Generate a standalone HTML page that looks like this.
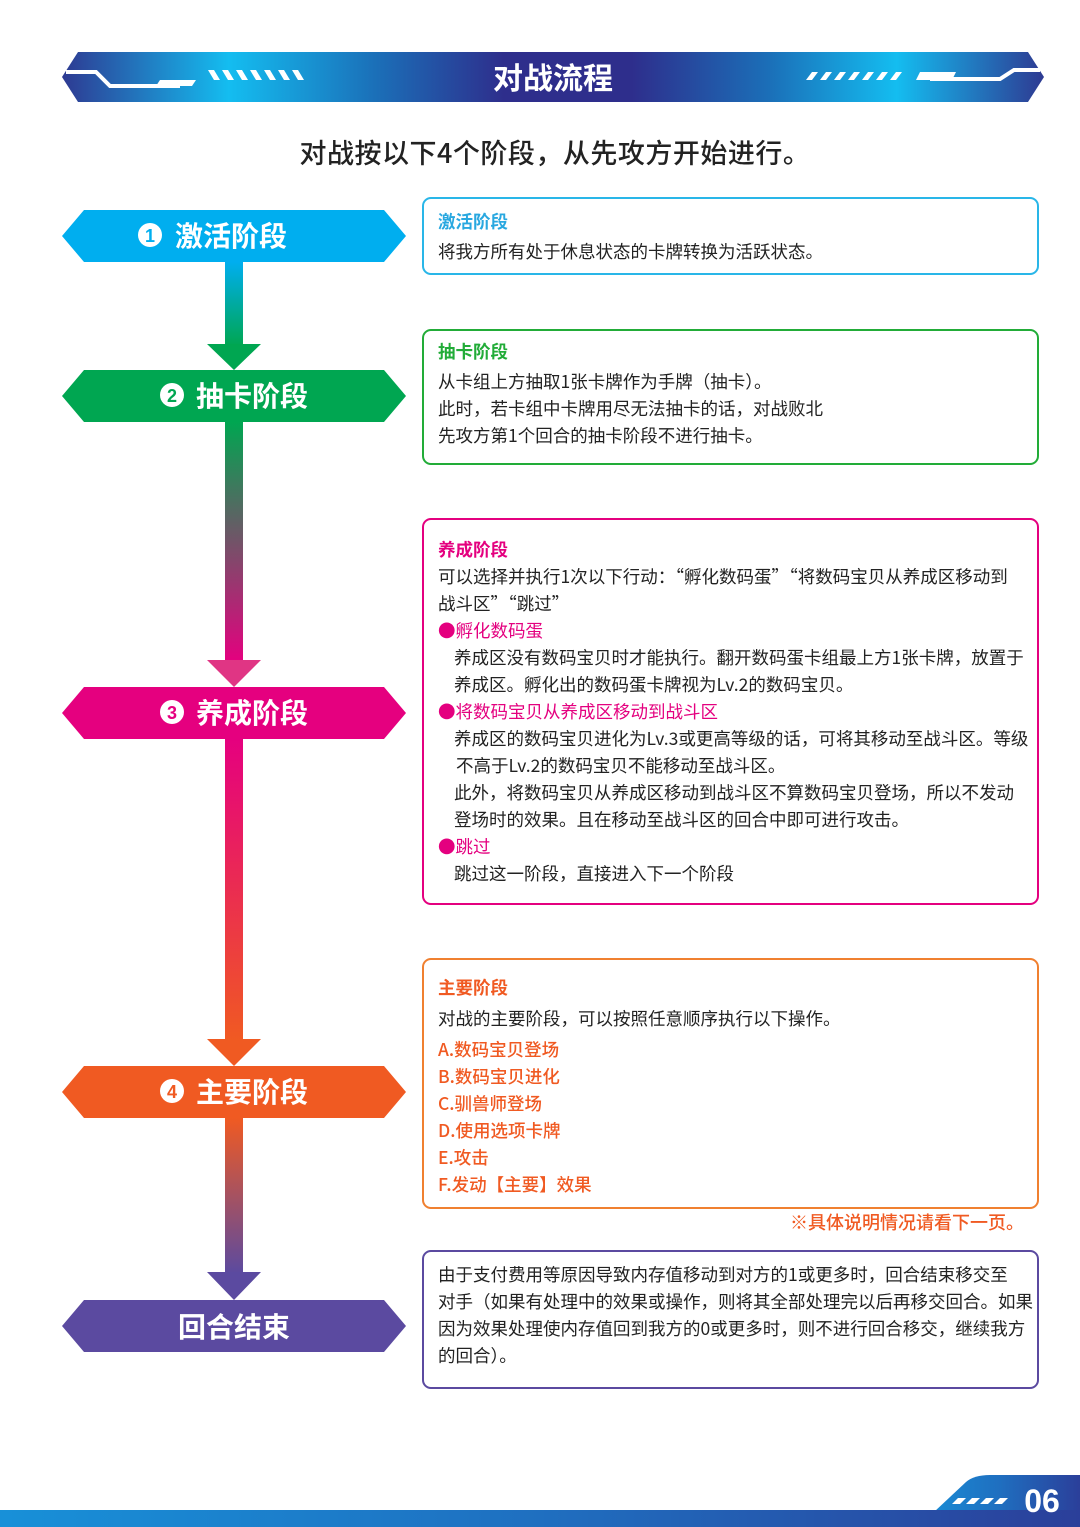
<!DOCTYPE html>
<html><head><meta charset="utf-8"><style>
body{margin:0;width:1080px;height:1527px;background:#fff;position:relative;overflow:hidden;font-family:"Noto Sans CJK SC","Liberation Sans",sans-serif;}
.box{position:absolute;left:422px;width:617px;border:2px solid;border-radius:9px;box-sizing:border-box;font-size:17.5px;color:#222;white-space:nowrap;}
.box p{margin:0;}
.t{font-weight:bold;}
.abs{position:absolute;}
</style></head><body>
<svg class="abs" style="left:0;top:0" width="1080" height="1527">
<defs>
<linearGradient id="ban" x1="0" x2="1">
<stop offset="0" stop-color="#2e3a92"/><stop offset="0.17" stop-color="#14bdf0"/><stop offset="0.32" stop-color="#1b6fb8"/><stop offset="0.45" stop-color="#2e2e8c"/><stop offset="0.58" stop-color="#2e2e8c"/><stop offset="0.72" stop-color="#1b6fb8"/><stop offset="0.85" stop-color="#14bdf0"/><stop offset="1" stop-color="#2e3a92"/></linearGradient>
<linearGradient id="c1" x1="0" y1="0" x2="0" y2="1"><stop offset="0" stop-color="#00aeef"/><stop offset="1" stop-color="#00a651"/></linearGradient>
<linearGradient id="c2" x1="0" y1="0" x2="0" y2="1"><stop offset="0" stop-color="#00a651"/><stop offset="1" stop-color="#e5007f"/></linearGradient>
<linearGradient id="c3" x1="0" y1="0" x2="0" y2="1"><stop offset="0" stop-color="#e5007f"/><stop offset="1" stop-color="#f05a22"/></linearGradient>
<linearGradient id="c4" x1="0" y1="0" x2="0" y2="1"><stop offset="0" stop-color="#f05a22"/><stop offset="1" stop-color="#5b4aa0"/></linearGradient>
<linearGradient id="bot" x1="0" x2="1"><stop offset="0" stop-color="#1890d8"/><stop offset="0.5" stop-color="#1f6fc0"/><stop offset="1" stop-color="#2b3f9a"/></linearGradient>
</defs>
<polygon points="78,52 1028,52 1044,77 1028,102 78,102 62,77" fill="url(#ban)"/>
<polyline points="66,72 96,72 110,86 180,86" stroke="#fff" stroke-width="4" fill="none"/>
<polygon points="160,80 196,80 192,86 156,86" fill="#fff"/>
<g fill="#fff"><polygon points="208,70 214,70 220,80 214,80"/><polygon points="222,70 228,70 234,80 228,80"/><polygon points="236,70 242,70 248,80 242,80"/><polygon points="250,70 256,70 262,80 256,80"/><polygon points="264,70 270,70 276,80 270,80"/><polygon points="278,70 284,70 290,80 284,80"/><polygon points="292,70 298,70 304,80 298,80"/>
<polygon points="812,72 818,72 812,80 806,80"/><polygon points="826,72 832,72 826,80 820,80"/><polygon points="840,72 846,72 840,80 834,80"/><polygon points="854,72 860,72 854,80 848,80"/><polygon points="868,72 874,72 868,80 862,80"/><polygon points="882,72 888,72 882,80 876,80"/><polygon points="896,72 902,72 896,80 890,80"/>
<polygon points="920,72 956,72 952,80 916,80"/></g>
<polyline points="930,79 1000,79 1014,70 1040,70" stroke="#fff" stroke-width="4" fill="none"/>
<text x="553" y="89" fill="#fff" font-size="30" font-weight="bold" text-anchor="middle" font-family="Noto Sans CJK SC,sans-serif">对战流程</text>
<text x="555" y="163" fill="#222" font-size="27" font-weight="500" text-anchor="middle" letter-spacing="0.5" font-family="Noto Sans CJK SC,sans-serif">对战按以下4个阶段，从先攻方开始进行。</text>
<rect x="225" y="262" width="18" height="84" fill="url(#c1)"/><polygon points="207,344 261,344 234,370" fill="#00a651"/>
<rect x="225" y="422" width="18" height="240" fill="url(#c2)"/><polygon points="207,660 261,660 234,687" fill="#e03584"/>
<rect x="225" y="739" width="18" height="302" fill="url(#c3)"/><polygon points="207,1039 261,1039 234,1066" fill="#f05a22"/>
<rect x="225" y="1118" width="18" height="156" fill="url(#c4)"/><polygon points="207,1272 261,1272 234,1300" fill="#5b4aa0"/>
<g font-family="Noto Sans CJK SC,sans-serif" font-size="28" font-weight="bold" fill="#fff" text-anchor="middle">
<polygon points="84,210 384,210 406,236 384,262 84,262 62,236" fill="#00aeef"/>
<circle cx="150" cy="235" r="12" fill="#fff"/><text x="150" y="242" font-size="18" fill="#00aeef" font-family="Liberation Sans,sans-serif">1</text><text x="231" y="246">激活阶段</text>
<polygon points="84,370 384,370 406,396 384,422 84,422 62,396" fill="#00a651"/>
<circle cx="172" cy="395" r="12" fill="#fff"/><text x="172" y="402" font-size="18" fill="#00a651" font-family="Liberation Sans,sans-serif">2</text><text x="252" y="406">抽卡阶段</text>
<polygon points="84,687 384,687 406,713 384,739 84,739 62,713" fill="#e5007f"/>
<circle cx="172" cy="712" r="12" fill="#fff"/><text x="172" y="719" font-size="18" fill="#e5007f" font-family="Liberation Sans,sans-serif">3</text><text x="252" y="723">养成阶段</text>
<polygon points="84,1066 384,1066 406,1092 384,1118 84,1118 62,1092" fill="#f05a22"/>
<circle cx="172" cy="1091" r="12" fill="#fff"/><text x="172" y="1098" font-size="18" fill="#f05a22" font-family="Liberation Sans,sans-serif">4</text><text x="252" y="1102">主要阶段</text>
<polygon points="84,1300 384,1300 406,1326 384,1352 84,1352 62,1326" fill="#5b4aa0"/>
<text x="234" y="1337">回合结束</text>
</g>
<path d="M918,1527 L966,1482 Q974,1475 990,1475 L1080,1475 L1080,1527 Z" fill="url(#bot)"/>
<rect x="0" y="1510" width="1080" height="17" fill="url(#bot)"/>
<g fill="#fff"><polygon points="952,1504 958,1498 966,1498 960,1504"/><polygon points="966,1504 972,1498 980,1498 974,1504"/><polygon points="980,1504 986,1498 994,1498 988,1504"/><polygon points="994,1504 1000,1498 1008,1498 1002,1504"/></g>
<text x="1042" y="1512" fill="#fff" font-size="32" font-weight="bold" text-anchor="middle" font-family="Liberation Sans,sans-serif">06</text>
</svg>

<div class="box" style="top:197px;height:78px;border-color:#29b6e8;padding:8px 14px;line-height:30px">
<p class="t" style="color:#29a8e0">激活阶段</p><p>将我方所有处于休息状态的卡牌转换为活跃状态。</p></div>

<div class="box" style="top:329px;height:136px;border-color:#22ac38;padding:7px 14px;line-height:27px">
<p class="t" style="color:#22ac38;margin-bottom:3px">抽卡阶段</p><p>从卡组上方抽取1张卡牌作为手牌（抽卡）。</p><p>此时，若卡组中卡牌用尽无法抽卡的话，对战败北</p><p>先攻方第1个回合的抽卡阶段不进行抽卡。</p></div>

<div class="box" style="top:518px;height:387px;border-color:#e4007f;padding:16px 4px 0 14px;line-height:27px">
<p class="t" style="color:#e4007f">养成阶段</p>
<p>可以选择并执行1次以下行动：“孵化数码蛋”“将数码宝贝从养成区移动到</p><p>战斗区”“跳过”</p>
<p style="color:#e4007f">●孵化数码蛋</p>
<p style="padding-left:16px">养成区没有数码宝贝时才能执行。翻开数码蛋卡组最上方1张卡牌，放置于</p><p style="padding-left:16px">养成区。孵化出的数码蛋卡牌视为Lv.2的数码宝贝。</p>
<p style="color:#e4007f">●将数码宝贝从养成区移动到战斗区</p>
<p style="padding-left:16px">养成区的数码宝贝进化为Lv.3或更高等级的话，可将其移动至战斗区。等级</p><p style="padding-left:18px">不高于Lv.2的数码宝贝不能移动至战斗区。</p>
<p style="padding-left:16px">此外，将数码宝贝从养成区移动到战斗区不算数码宝贝登场，所以不发动</p><p style="padding-left:16px">登场时的效果。且在移动至战斗区的回合中即可进行攻击。</p>
<p style="color:#e4007f">●跳过</p><p style="padding-left:16px">跳过这一阶段，直接进入下一个阶段</p></div>

<div class="box" style="top:958px;height:251px;border-color:#f08030;padding:14px 14px;line-height:27px">
<p class="t" style="color:#f05a22;margin-bottom:4px">主要阶段</p><p style="margin-bottom:4px">对战的主要阶段，可以按照任意顺序执行以下操作。</p>
<div style="color:#f05a22;font-weight:500"><p>A.数码宝贝登场</p><p>B.数码宝贝进化</p><p>C.驯兽师登场</p><p>D.使用选项卡牌</p><p>E.攻击</p><p>F.发动【主要】效果</p></div></div>
<div class="abs" style="left:790px;top:1209px;font-size:18px;color:#f05a22;font-weight:500">※具体说明情况请看下一页。</div>

<div class="box" style="top:1250px;height:139px;border-color:#5b4aa0;padding:9px 4px 0 14px;line-height:27px">
<p>由于支付费用等原因导致内存值移动到对方的1或更多时，回合结束移交至</p><p>对手（如果有处理中的效果或操作，则将其全部处理完以后再移交回合。如果</p><p>因为效果处理使内存值回到我方的0或更多时，则不进行回合移交，继续我方</p><p>的回合）。</p></div>
</body></html>
